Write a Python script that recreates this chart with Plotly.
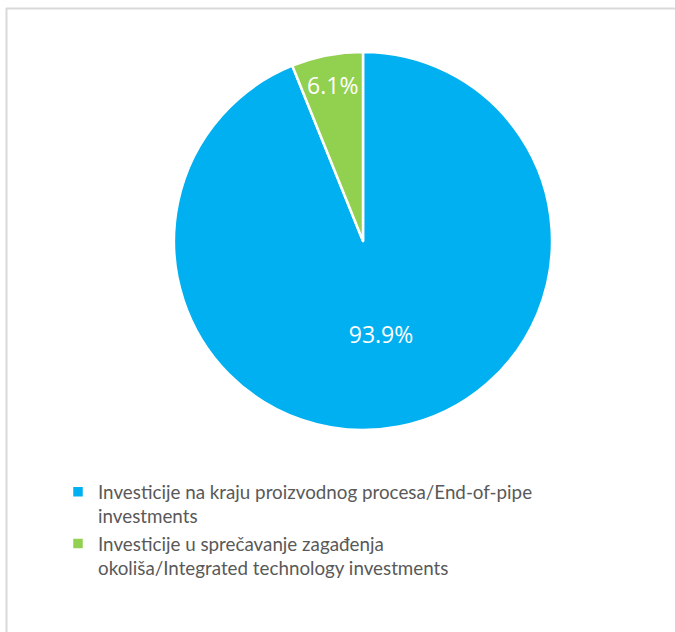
import plotly.graph_objects as go

labels = [
    "Investicije na kraju proizvodnog procesa/End-of-pipe<br>investments",
    "Investicije u sprečavanje zagađenja<br>okoliša/Integrated technology investments",
]
values = [93.9, 6.1]
colors = ["#00B0F0", "#92D050"]

W, H = 675, 632
cx, cy, r = 363, 241, 189

fig = go.Figure(go.Pie(
    labels=labels,
    values=values,
    sort=False,
    direction="clockwise",
    rotation=0,
    marker=dict(colors=colors, line=dict(color="white", width=2.5)),
    texttemplate="%{percent:.1%}",
    textposition="inside",
    insidetextorientation="horizontal",
    textfont=dict(color="white", size=23, family="Open Sans"),
    domain=dict(x=[(cx - r) / W, (cx + r) / W], y=[1 - (cy + r) / H, 1 - (cy - r) / H]),
    hoverinfo="label+percent",
))

fig.update_layout(
    width=W, height=H,
    margin=dict(l=0, r=0, t=0, b=0),
    paper_bgcolor="white",
    plot_bgcolor="white",
    showlegend=True,
    uniformtext=dict(minsize=23, mode="show"),
    legend=dict(
        x=58 / W, y=1 - 473 / H, xanchor="left", yanchor="top",
        font=dict(family="Lato", size=18.8, color="#595959"),
        orientation="v",
        valign="top",
        itemwidth=30,
    ),
    shapes=[
        dict(type="line", xref="paper", yref="paper", x0=6 / W, x1=1.1, y0=1 - 8.5 / H, y1=1 - 8.5 / H,
             line=dict(color="#D9D9D9", width=2)),
        dict(type="line", xref="paper", yref="paper", x0=6.5 / W, x1=6.5 / W, y0=1 - 8 / H, y1=-0.1,
             line=dict(color="#D9D9D9", width=2)),
    ],
)

fig.write_html(
    "out.html",
    config={"displayModeBar": False},
    post_script="document.body.style.margin='0';document.body.style.padding='0';",
)
